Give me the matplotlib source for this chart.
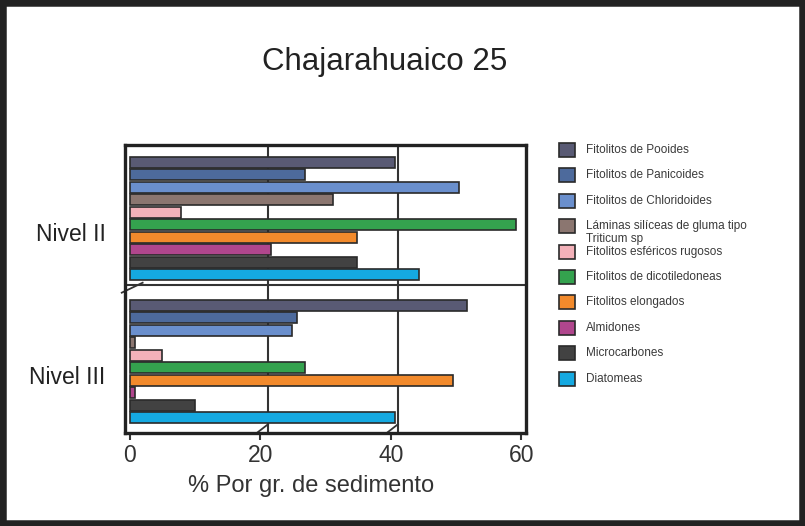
import matplotlib
matplotlib.use("Agg")
import matplotlib.pyplot as plt
from matplotlib.patches import Rectangle
from matplotlib.lines import Line2D
import numpy as np

plt.rcParams['font.family'] = ['Liberation Sans', 'DejaVu Sans']

title = "Chajarahuaico 25"
levels = ["Nivel II", "Nivel III"]
categories = ["Fitolitos de Pooides", "Fitolitos de Panicoides", "Fitolitos de Chloridoides",
              "Láminas silíceas de gluma tipo\nTriticum sp", "Fitolitos esféricos rugosos",
              "Fitolitos de dicotiledoneas", "Fitolitos elongados", "Almidones",
              "Microcarbones", "Diatomeas"]
nivel_II = [40.7, 26.8, 50.4, 31.2, 7.8, 59.2, 34.8, 21.6, 34.8, 44.4]
nivel_III = [51.7, 25.6, 24.8, 0.9, 4.9, 26.8, 49.5, 0.8, 10.0, 40.6]
colors = ["#595a74", "#4d6a9c", "#6a8fcd", "#8b7670", "#f3b1b9",
          "#34a24e", "#f28a2c", "#b0468d", "#424242", "#15a9e1"]
xticks = [0, 20, 40, 60]
grid_x = [21.2, 41.1]
xlabel = "% Por gr. de sedimento"

fig = plt.figure(figsize=(8.05, 5.26), dpi=100)
fig.patch.set_facecolor("white")
ax = fig.add_axes([0.1553, 0.1768, 0.498, 0.5475])

n = len(categories)
group_offset = 11.45
y_top = np.arange(n)
y_bot = np.arange(n) + group_offset
h = 0.88
ax.barh(y_top, nivel_II, height=h, color=colors, edgecolor="#2a2a2a", linewidth=1.2, zorder=3)
ax.barh(y_bot, nivel_III, height=h, color=colors, edgecolor="#2a2a2a", linewidth=1.2, zorder=3)

ax.set_xlim(-0.7, 60.7)
ymax = group_offset + n - 1 + 1.24
ax.set_ylim(ymax, -1.4)
sep = 9.84
for gx in grid_x:
    ax.axvline(gx, color="#333333", lw=1.5, zorder=1)
    # small slanted break marks at the foot of each grid line
    ax.plot([gx - 1.6, gx], [ymax - 0.05, ymax - 0.7], color="#333333", lw=1.3,
            zorder=2, clip_on=False)
ax.axhline(sep, color="#333333", lw=1.5, zorder=2)
ax.plot([-1.2, 2.0], [sep + 0.6, sep - 0.2], color="#333333", lw=1.3, zorder=2, clip_on=False)

ax.set_xticks(xticks)
ax.set_xticklabels([str(t) for t in xticks], fontsize=16.5, color="#333333")
ax.tick_params(axis='x', length=5, width=1.5, direction='out', pad=3, colors="#333333")
ax.set_yticks([5.6, group_offset + 5.6])
ax.set_yticklabels(levels, fontsize=16.5, color="#222222")
ax.tick_params(axis='y', length=0, pad=14)
for s in ax.spines.values():
    s.set_linewidth(2.4)
    s.set_color("#222222")
ax.set_xlabel(xlabel, fontsize=17, color="#333333")
ax.xaxis.set_label_coords(0.465, -0.145)

fig.text(0.478, 0.883, title, ha="center", va="center", fontsize=22.5, color="#222222")

# legend drawn manually
y0 = 150
pitch = 25.4
W, H = 805, 526
for i, (lab, c) in enumerate(zip(categories, colors)):
    yc = y0 + pitch * i
    fig.add_artist(Rectangle(((559) / W, (H - yc - 7) / H), 16 / W, 14 / H,
                             transform=fig.transFigure, facecolor=c,
                             edgecolor="#2a2a2a", linewidth=1.2))
    lines = lab.split("\n")
    fig.text(586 / W, (H - yc) / H, lines[0], fontsize=8.5, color="#3a3a3a",
             ha="left", va="center")
    if len(lines) > 1:
        fig.text(586 / W, (H - yc - 13) / H, lines[1], fontsize=8.5, color="#3a3a3a",
                 ha="left", va="center")

fig.add_artist(Rectangle((0, 0), 1, 1, transform=fig.transFigure, fill=False,
                         edgecolor="#222222", linewidth=9))

fig.savefig("out.png", dpi=100)
